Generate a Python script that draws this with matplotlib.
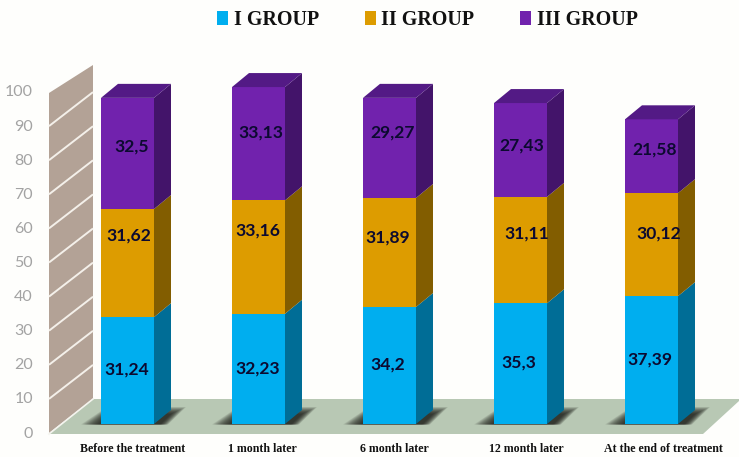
import numpy as np
import matplotlib
matplotlib.use('Agg')
import matplotlib.pyplot as plt
from matplotlib.patches import Polygon, Patch

categories = ['Before the treatment', '1 month later', '6 month later',
              '12 month later', 'At the end of treatment']
group_names = ['I GROUP', 'II GROUP', 'III GROUP']
group_1 = [31.24, 32.23, 34.2, 35.3, 37.39]
group_2 = [31.62, 33.16, 31.89, 31.11, 30.12]
group_3 = [32.5, 33.13, 29.27, 27.43, 21.58]
labels_1 = ['31,24', '32,23', '34,2', '35,3', '37,39']
labels_2 = ['31,62', '33,16', '31,89', '31,11', '30,12']
labels_3 = ['32,5', '33,13', '29,27', '27,43', '21,58']
y_ticks = [0, 10, 20, 30, 40, 50, 60, 70, 80, 90, 100]

front_colors = ['#00aeef', '#dd9c00', '#7122ad']
side_colors = ['#006d96', '#825d00', '#43146a']
top_color = '#531a85'
wall_color = '#b3a296'
floor_color = '#b8c8b4'

# hand placed value labels, in pixels from the top left corner
label_x = [[127, 258, 388, 519, 650],
           [129, 258, 388, 527, 659],
           [132, 261, 393, 522, 655]]
label_y = [[370, 369, 365, 363, 360],
           [236, 231, 238, 234, 234],
           [147, 133, 133, 146, 150]]
category_x = [132.5, 262, 394, 526.5, 663]

# one x unit is one bar slot, one y unit is one percent on the front plane
PX_X = 131.0
PX_Y = 3.42
W, H = 739, 457
X0, Y0 = 127.5, 424


def dx(p):
    return (p - X0) / PX_X


def dy(p):
    return (Y0 - p) / PX_Y


fig = plt.figure(figsize=(W / 100, H / 100), dpi=100, facecolor='#fefefc')
ax = fig.add_axes([0, 0, 1, 1])
ax.set_xlim(dx(0), dx(W))
ax.set_ylim(dy(H), dy(0))
ax.axis('off')

# floor and back wall
ax.add_patch(Polygon([(dx(49), dy(434)), (dx(93), dy(399)), (dx(739), dy(399)),
                      (dx(739), dy(401)), (dx(703), dy(434))],
                     fc=floor_color, ec='none', zorder=1))
ax.add_patch(Polygon([(dx(49), dy(433)), (dx(49), dy(93)), (dx(93), dy(65)), (dx(93), dy(399))],
                     fc=wall_color, ec='none', zorder=1))
for t in y_ticks[1:-1]:
    front = 433 - t * 3.41
    ax.plot([dx(49), dx(93)], [dy(front), dy(front - 34)], color='#f4f0ea', lw=1.4,
            zorder=2, solid_capstyle='butt')
ax.plot([dx(49), dx(93)], [dy(434), dy(399)], color='#f4f4ee', lw=1.2, zorder=2)

for t in y_ticks:
    ax.text(dx(33), dy(433.5 - t * 3.41), str(t), ha='right', va='center',
            fontsize=11.5, color='#a3a3a3', family='Lato', zorder=3)

width = 53 / PX_X
depth_x = 17 / PX_X
depth_y = 14 / PX_Y
x = np.arange(len(categories))
series = [group_1, group_2, group_3]
texts = [labels_1, labels_2, labels_3]

# soft contact shadows under the bars, built from stacked translucent shapes
for xi in x:
    l, r = xi - width / 2, xi + width / 2
    for k in np.linspace(1, 0, 16):
        ax.add_patch(Polygon([(l - (2 + k * 18) / PX_X, dy(424.5)),
                              (l + (8 - k * 2) / PX_X, dy(414 - k * 7)),
                              (r + (17 + k * 15) / PX_X, dy(414 - k * 7)),
                              (r + (6 + k * 8) / PX_X, dy(424.5))],
                             fc='#141410', alpha=0.09, ec='none', zorder=3))

bottom = np.zeros(len(categories))
for s_idx, (vals, txt, fc, sc) in enumerate(zip(series, texts, front_colors, side_colors)):
    vals = np.array(vals)
    ax.bar(x, vals, width=width, bottom=bottom, color=fc, zorder=5)
    for i, (xi, b, v, s) in enumerate(zip(x, bottom, vals, txt)):
        r = xi + width / 2
        ax.add_patch(Polygon([(r, b), (r + depth_x, b + depth_y),
                              (r + depth_x, b + v + depth_y), (r, b + v)],
                             fc=sc, ec='none', zorder=4))
        ax.text(dx(label_x[s_idx][i]), dy(label_y[s_idx][i]), s, ha='center', va='center',
                fontsize=12.6, fontweight='bold', color='#0c0a30', family='Lato', zorder=6)
    bottom += vals

for xi, b in zip(x, bottom):
    l, r = xi - width / 2, xi + width / 2
    ax.add_patch(Polygon([(l, b), (l + depth_x, b + depth_y), (r + depth_x, b + depth_y), (r, b)],
                         fc=top_color, ec='none', zorder=5))

for cx, c in zip(category_x, categories):
    ax.text(dx(cx), dy(449), c, ha='center', va='center', fontsize=8.6,
            fontweight='bold', color='#111111', family='Liberation Serif', zorder=6)

handles = [Patch(fc=c, ec='none') for c in front_colors]
leg = ax.legend(handles, group_names, ncol=3, loc='upper left', bbox_to_anchor=(0.283, 0.9955),
                frameon=False, handlelength=0.55, handleheight=0.72, handletextpad=0.28,
                columnspacing=2.28, borderaxespad=0,
                prop={'family': 'Liberation Serif', 'weight': 'bold', 'size': 14.4})
for t in leg.get_texts():
    t.set_color('#111111')

fig.savefig('out.png', dpi=100, facecolor=fig.get_facecolor())
